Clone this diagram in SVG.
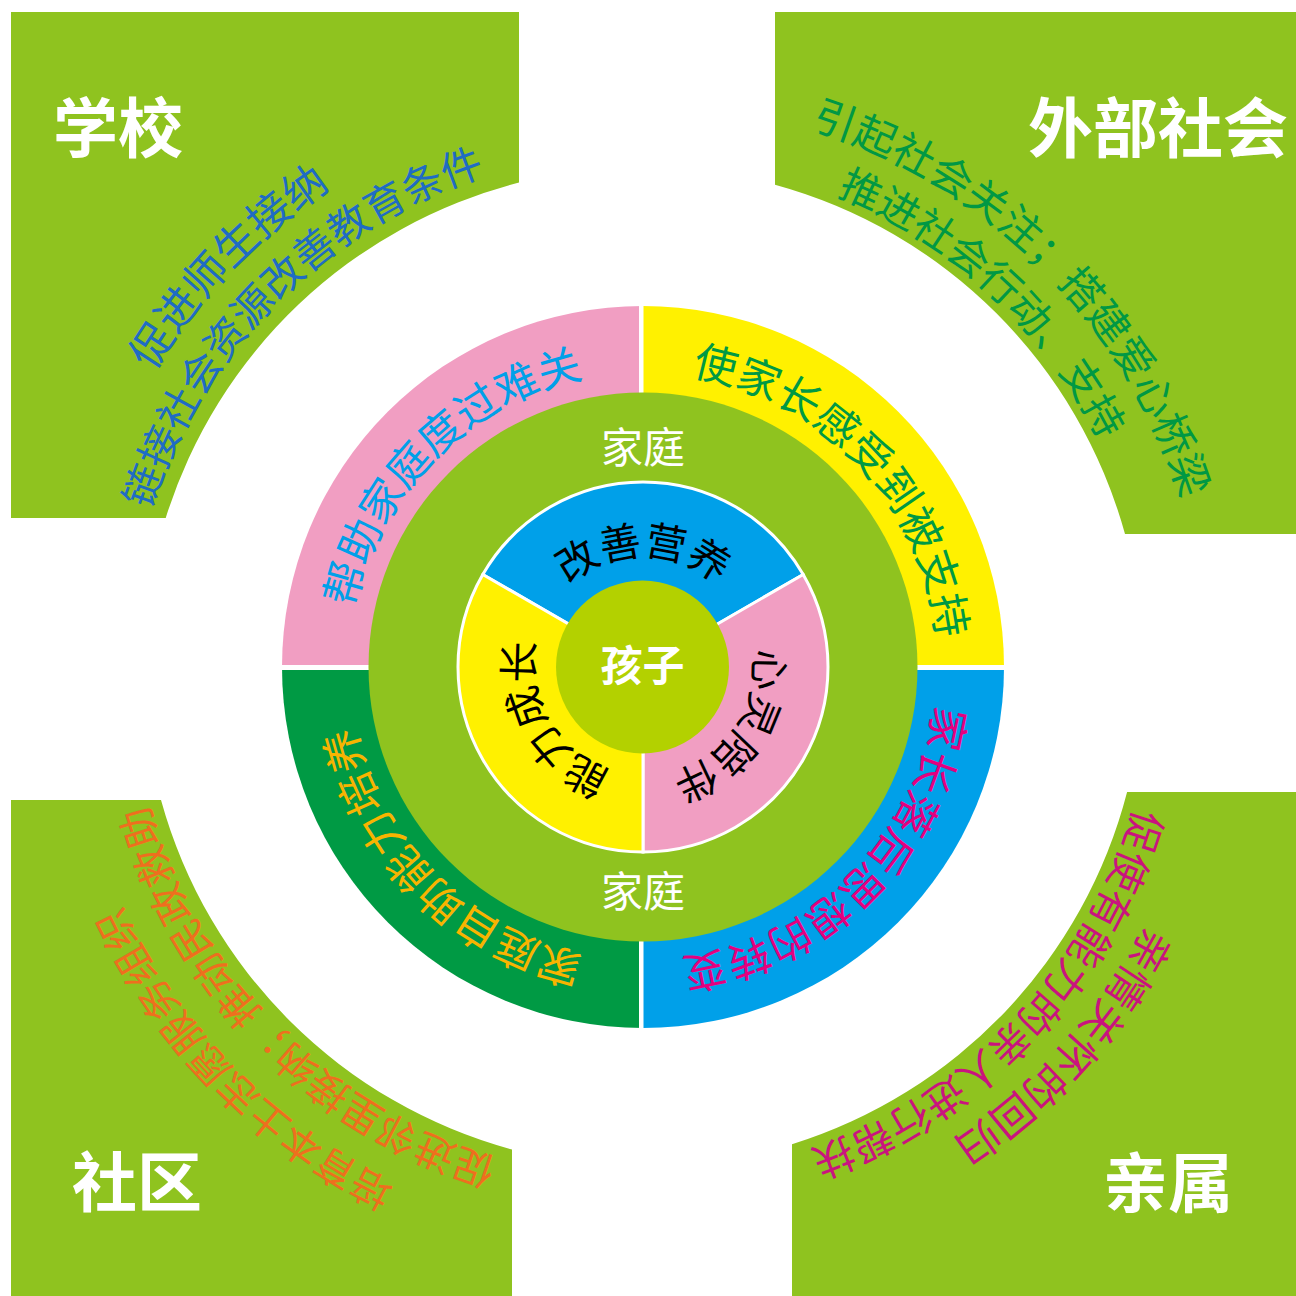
<svg xmlns="http://www.w3.org/2000/svg" width="1296" height="1296" viewBox="0 0 1296 1296">
<style>
.cjk{font-family:"Noto Sans CJK SC","Noto Sans",sans-serif}
.corner{fill:#8fc31f}
.lbl{font-family:"Noto Sans CJK SC",sans-serif;font-weight:bold;font-size:65px;fill:#fff;text-anchor:middle}
.arc{font-family:"Noto Sans CJK SC",sans-serif;text-anchor:middle}
.seg{stroke:#fff;stroke-width:3}
</style>
<defs>
<path id="pIn0" d="M532,667 A111,111 0 0 1 754,667"/>
<path id="pIn120" d="M703.46,573.91 A111,111 0 0 1 582.54,760.09"/>
<path id="pIn240" d="M698.5,763.1 A111,111 0 0 1 587.5,570.9"/>
<path id="pOut315" d="M433.7,876.3 A296,296 0 0 1 852.3,457.7"/>
<path id="pOut45" d="M441.13,450.52 A296,296 0 0 1 844.87,883.48"/>
<path id="pOut135" d="M852.3,457.7 A296,296 0 0 1 433.7,876.3"/>
<path id="pOut225" d="M852.3,876.3 A296,296 0 0 1 433.7,457.7"/>
<path id="pTL1" d="M245.65,1078.46 A572,572 0 0 1 1040.35,255.54"/>
<path id="pTL2" d="M276.72,1033.28 A518,518 0 0 1 1009.28,300.72"/>
<path id="pTR1" d="M242.78,266.78 A566,566 0 0 1 1043.22,1067.22"/>
<path id="pTR2" d="M268.55,317.82 A512,512 0 0 1 1017.45,1016.18"/>
<path id="pBL1" d="M1046.02,1077.12 A575,575 0 0 1 239.98,256.88"/>
<path id="pBL2" d="M1003.97,1034.32 A515,515 0 0 1 282.03,299.68"/>
<path id="pBR1" d="M1021.73,246.38 A566,566 0 0 1 264.27,1087.62"/>
<path id="pBR2" d="M995.44,295.61 A512,512 0 0 1 290.56,1038.39"/>
</defs>
<rect width="1296" height="1296" fill="#fff"/>

<g id="school">
<path class="corner" d="M11,12 H519 V182.6 A500,500 0 0 0 165.7,518 H11 Z"/>
<text class="lbl" x="118" y="152">学校</text>
<text class="arc" font-size="43" fill="#1f6cc4"><textPath href="#pTL1" startOffset="50%">促进师生接纳</textPath></text>
<text class="arc" font-size="41" fill="#1f6cc4"><textPath href="#pTL2" startOffset="50%">链接社会资源改善教育条件</textPath></text>
</g>

<g id="society">
<path class="corner" d="M775,12 H1296 V534 H1125 A500,500 0 0 0 775,184.7 Z"/>
<text class="lbl" x="1158" y="152">外部社会</text>
<text class="arc" font-size="42" fill="#009844"><textPath href="#pTR1" startOffset="50%">引起社会关注；搭建爱心桥梁</textPath></text>
<text class="arc" font-size="41" fill="#009844"><textPath href="#pTR2" startOffset="50%">推进社会行动、支持</textPath></text>
</g>

<g id="community">
<path class="corner" d="M11,800 H161 A500,500 0 0 0 512,1149.5 V1296 H11 Z"/>
<text class="lbl" x="137" y="1206">社区</text>
<text class="arc" font-size="40" fill="#ee6f1e"><textPath href="#pBL1" startOffset="50%">培育本土志愿服务组织</textPath></text>
<text class="arc" font-size="40" fill="#ee6f1e"><textPath href="#pBL2" startOffset="50%">促进邻里接纳；推动民政救助</textPath></text>
</g>

<g id="relatives">
<path class="corner" d="M792,1296 V1144.3 A500,500 0 0 0 1127.1,792 H1296 V1296 Z"/>
<text class="lbl" x="1168" y="1207">亲属</text>
<text class="arc" font-size="42" fill="#c9147e"><textPath href="#pBR1" startOffset="50%">亲情关怀的回归</textPath></text>
<text class="arc" font-size="41" fill="#c9147e"><textPath href="#pBR2" startOffset="50%">促使有能力的亲人进行帮扶</textPath></text>
</g>

<g id="outer-ring">
<path fill="#f19ec2" d="M643,667 L282,667 A361,361 0 0 1 643,306 Z"/>
<path fill="#fff100" d="M643,667 L643,306 A361,361 0 0 1 1004,667 Z"/>
<path fill="#00a0e9" d="M643,667 L1004,667 A361,361 0 0 1 643,1028 Z"/>
<path fill="#009a44" d="M643,667 L643,1028 A361,361 0 0 1 282,667 Z"/>
<rect x="639" y="300" width="4.5" height="735" fill="#fff"/>
<rect x="276" y="665" width="734" height="5" fill="#fff"/>
<text class="arc" font-size="43" fill="#00a0e9"><textPath href="#pOut315" startOffset="50%">帮助家庭度过难关</textPath></text>
<text class="arc" font-size="43" fill="#009944"><textPath href="#pOut45" startOffset="50%">使家长感受到被支持</textPath></text>
<text class="arc" font-size="43" fill="#e4007f"><textPath href="#pOut135" startOffset="50%">家长落后思想的转变</textPath></text>
<text class="arc" font-size="43" fill="#f8b400"><textPath href="#pOut225" startOffset="50%">家庭自助能力培养</textPath></text>
</g>

<g id="family">
<circle cx="643" cy="667" r="274.5" fill="#8fc31f"/>
<text class="cjk" x="643" y="463" font-size="42" fill="#fff" text-anchor="middle">家庭</text>
<text class="cjk" x="643" y="907" font-size="42" fill="#fff" text-anchor="middle">家庭</text>
</g>

<g id="inner-ring">
<path class="seg" fill="#00a0e9" d="M643,667 L482.78,574.5 A185,185 0 0 1 803.22,574.5 Z"/>
<path class="seg" fill="#f19ec2" d="M643,667 L803.22,574.5 A185,185 0 0 1 643,852 Z"/>
<path class="seg" fill="#fff100" d="M643,667 L643,852 A185,185 0 0 1 482.78,574.5 Z"/>
<text class="arc" font-size="41" fill="#000"><textPath href="#pIn0" startOffset="50%">改善营养</textPath></text>
<text class="arc" font-size="41" fill="#000"><textPath href="#pIn120" startOffset="50%">心灵陪伴</textPath></text>
<text class="arc" font-size="41" fill="#000"><textPath href="#pIn240" startOffset="50%">能力成长</textPath></text>
</g>

<g id="child">
<circle cx="642.5" cy="667" r="86.5" fill="#b3d100"/>
<text class="cjk" x="642.5" y="681" font-size="42" font-weight="bold" fill="#fff" text-anchor="middle">孩子</text>
</g>

<g id="connectors"></g>
</svg>
